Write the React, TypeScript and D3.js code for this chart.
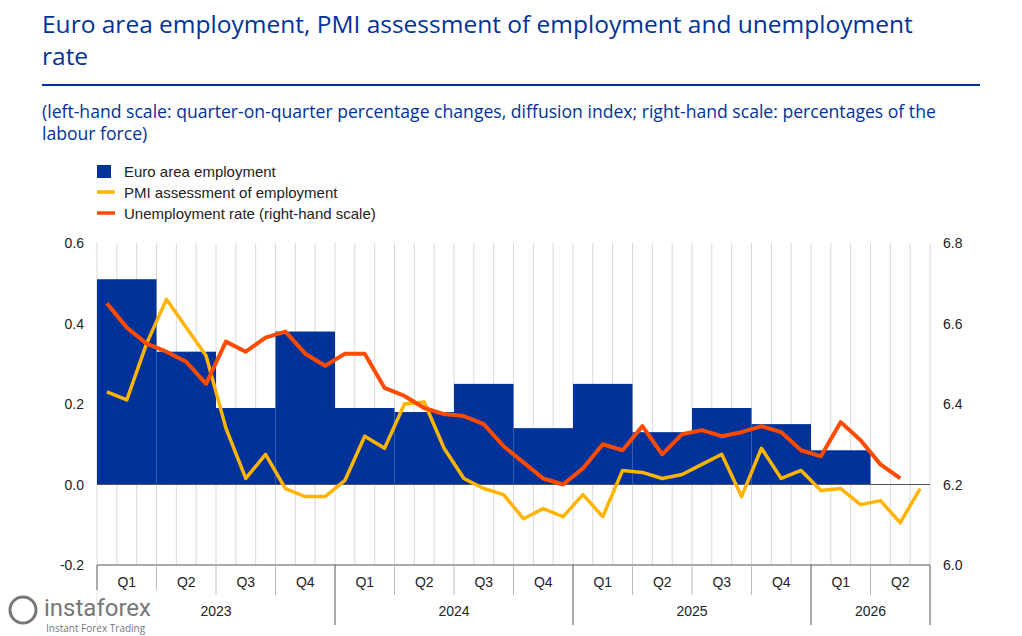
import React from "react";
import * as d3 from "d3";

const quarters = ["Q1","Q2","Q3","Q4","Q1","Q2","Q3","Q4","Q1","Q2","Q3","Q4","Q1","Q2"];
const years = ["2023","2024","2025","2026"];
const employment = [0.51,0.33,0.19,0.38,0.19,0.18,0.25,0.14,0.25,0.13,0.19,0.15,0.085,null];
const pmi = [0.23,0.21,0.35,0.46,0.39,0.32,0.14,0.015,0.075,-0.01,-0.03,-0.03,0.01,0.12,0.09,0.2,0.205,0.09,0.015,-0.01,-0.025,-0.085,-0.06,-0.08,-0.025,-0.08,0.035,0.03,0.015,0.025,0.05,0.075,-0.03,0.09,0.015,0.035,-0.015,-0.01,-0.05,-0.04,-0.095,-0.01];
const unemp = [6.65,6.59,6.55,6.53,6.505,6.45,6.555,6.53,6.565,6.58,6.525,6.495,6.525,6.525,6.44,6.42,6.39,6.375,6.37,6.35,6.295,6.255,6.215,6.2,6.24,6.3,6.285,6.345,6.275,6.325,6.335,6.32,6.33,6.345,6.33,6.285,6.27,6.355,6.31,6.25,6.215];
const leftTicks = [0.6,0.4,0.2,0.0,-0.2];
const rightTicks = [6.8,6.6,6.4,6.2,6.0];

const BLUE = "#003299", YEL = "#ffb400", RED = "#ff4b00";
const F = "'Open Sans', sans-serif";
const A = "'Liberation Sans', Arial, sans-serif";

export default function App() {
  const x0 = 97, x1 = 930, nM = 42;
  const x = d3.scaleLinear().domain([0, nM]).range([x0, x1]);
  const yL = d3.scaleLinear().domain([-0.2, 0.6]).range([565, 243]);
  const yR = d3.scaleLinear().domain([6.0, 6.8]).range([565, 243]);
  const pmiLine = d3.line<number>().x((_, i) => x(i + 0.5)).y(d => yL(d));
  const unLine = d3.line<number>().x((_, i) => x(i + 0.5)).y(d => yR(d));
  return (
    <svg width={1022} height={636} style={{ position: "absolute", left: 0, top: 0, background: "#fff" }} fontFamily={F}>
      <text x={42} y={33} fontSize={24.5} fill={BLUE}>Euro area employment, PMI assessment of employment and unemployment</text>
      <text x={42} y={65} fontSize={24.5} fill={BLUE}>rate</text>
      <line x1={42} x2={980} y1={85} y2={85} stroke={BLUE} strokeWidth={2} />
      <text x={42} y={118} fontSize={17.6} fill={BLUE}>(left-hand scale: quarter-on-quarter percentage changes, diffusion index; right-hand scale: percentages of the</text>
      <text x={42} y={140} fontSize={17.6} fill={BLUE}>labour force)</text>
      <rect x={97} y={165} width={14} height={13} fill={BLUE} />
      <text x={124} y={177} fontSize={15} fill="#222" fontFamily={A}>Euro area employment</text>
      <line x1={97} x2={115} y1={192} y2={192} stroke={YEL} strokeWidth={3.5} />
      <text x={124} y={198} fontSize={15} fill="#222" fontFamily={A}>PMI assessment of employment</text>
      <line x1={97} x2={115} y1={213} y2={213} stroke={RED} strokeWidth={3.5} />
      <text x={124} y={219} fontSize={15} fill="#222" fontFamily={A}>Unemployment rate (right-hand scale)</text>
      {d3.range(nM + 1).map(i => (
        <line key={i} x1={x(i)} x2={x(i)} y1={243} y2={565} stroke="#d9d9d9" />
      ))}
      {employment.map((v, i) => v == null ? null : (
        <rect key={i} x={x(i * 3)} width={x(3) - x(0)} y={yL(Math.max(0, v))} height={Math.abs(yL(v) - yL(0))} fill={BLUE} />
      ))}
      <line x1={x0} x2={x1} y1={yL(0)} y2={yL(0)} stroke="#555" />
      <path d={pmiLine(pmi) || ""} fill="none" stroke={YEL} strokeWidth={3.5} strokeLinejoin="round" />
      <path d={unLine(unemp) || ""} fill="none" stroke={RED} strokeWidth={4} strokeLinejoin="round" />
      {leftTicks.map(t => (
        <text key={t} x={84} y={yL(t) + 5} fontSize={14} textAnchor="end" fill="#222" fontFamily={A}>{t.toFixed(1)}</text>
      ))}
      {rightTicks.map(t => (
        <text key={t} x={943} y={yR(t) + 5} fontSize={14} fill="#222" fontFamily={A}>{t.toFixed(1)}</text>
      ))}
      <line x1={x0} x2={x1} y1={565} y2={565} stroke="#555" />
      {quarters.map((q, i) => (
        <text key={i} x={x(i * 3 + 1.5)} y={587} fontSize={14} textAnchor="middle" fill="#222" fontFamily={A}>{q}</text>
      ))}
      {d3.range(nM + 1).filter(i => i % 12 === 0 || i === nM).map(i => (
        <line key={i} x1={x(i)} x2={x(i)} y1={565} y2={625} stroke="#555" />
      ))}
      {d3.range(nM + 1).filter(i => i % 12 !== 0 && i % 3 === 0 && i !== nM).map(i => (
        <line key={"q" + i} x1={x(i)} x2={x(i)} y1={565} y2={595} stroke="#bbb" />
      ))}
      {years.map((y, i) => (
        <text key={y} x={x(Math.min(i * 12 + 6, i * 12 + (nM - i * 12) / 2))} y={616} fontSize={14} textAnchor="middle" fill="#222" fontFamily={A}>{y}</text>
      ))}
      <rect x={0} y={590} width={180} height={46} fill="#fff" opacity={0.85} />
      <text x={44} y={616} fontSize={24} fill="#777" fontFamily="Roboto, sans-serif">instaforex</text>
      <text x={46} y={632} fontSize={10} fill="#777">Instant Forex Trading</text>
      <circle cx={23} cy={610} r={13} fill="none" stroke="#777" strokeWidth={3} />
    </svg>
  );
}
